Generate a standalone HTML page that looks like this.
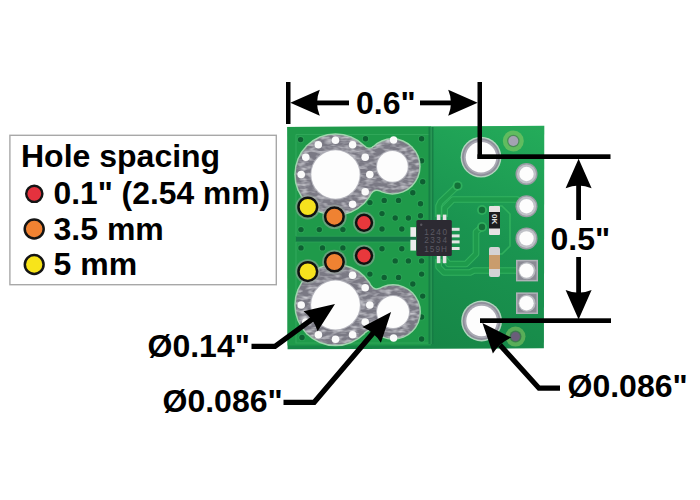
<!DOCTYPE html>
<html><head><meta charset="utf-8">
<style>
html,body{margin:0;padding:0;background:#fff;width:700px;height:500px;overflow:hidden}
svg{display:block}
text{font-family:"Liberation Sans",sans-serif;font-weight:bold;fill:#000}
</style></head><body>
<svg width="700" height="500" viewBox="0 0 700 500">
<defs>
<filter id="mottle" x="0" y="0" width="100%" height="100%">
<feTurbulence type="fractalNoise" baseFrequency="0.12 0.3" numOctaves="2" seed="7" result="n"/>
<feColorMatrix in="n" type="matrix" values="0 0 0 0 0.6  0 0 0 0 0.6  0 0 0 0 0.64  0 0 0 -2.2 1.3" result="c"/>
<feComposite in="c" in2="SourceGraphic" operator="in"/>
</filter>
<linearGradient id="bgrad" x1="430" y1="348" x2="544" y2="127" gradientUnits="userSpaceOnUse">
<stop offset="0" stop-color="#168646"/><stop offset="0.5" stop-color="#1a9450"/><stop offset="1" stop-color="#24ac5a"/>
</linearGradient>
</defs>
<rect width="700" height="500" fill="#fff"/>

<rect x="9.9" y="135.3" width="266.4" height="149.4" fill="#fff" stroke="#a8a8a8" stroke-width="1.4"/>
<text x="21" y="167" font-size="32">Hole spacing</text>
<circle cx="34.3" cy="193.8" r="8.1" fill="#e4323e" stroke="#141414" stroke-width="2.4"/>
<text x="53.5" y="204.2" font-size="31.8">0.1" (2.54 mm)</text>
<circle cx="34.2" cy="229" r="9.5" fill="#f08232" stroke="#141414" stroke-width="2.5"/>
<text x="53.5" y="240" font-size="32">3.5 mm</text>
<circle cx="34.2" cy="264.5" r="9.4" fill="#f8e41a" stroke="#141414" stroke-width="2.5"/>
<text x="53.5" y="275" font-size="32">5 mm</text>
<path d="M287.4 127.1 L544.3 125.8 L543.9 348.3 L287.6 349.3 Z" fill="url(#bgrad)"/>
<rect x="287.4" y="126.9" width="256.6" height="3" fill="#2aa456" opacity="0.7"/>
<path d="M287.4 127.1 L431 126.4 V345.5 H287.5 Z" fill="#1f9a4a"/>
<path d="M296 134.5 H430.5 M296 134.5 V236 M296 242 V343 H430.5" fill="none" stroke="#3cb064" stroke-width="1.2" opacity="0.6"/>
<rect x="428.5" y="127" width="5" height="217" fill="#167a44" opacity="0.85"/>
<rect x="430.5" y="127" width="1.3" height="217" fill="#3cb064" opacity="0.6"/>
<rect x="296" y="235.8" width="120" height="6.6" fill="#3cb064" opacity="0.5"/>
<rect x="296" y="236.6" width="120" height="5" fill="#157646"/>
<circle cx="300.6" cy="139.6" r="3.6" fill="#3cb064" opacity="0.45"/><circle cx="300.6" cy="139.6" r="2.7" fill="#0e6032"/>
<circle cx="365.5" cy="138.8" r="3.6" fill="#3cb064" opacity="0.45"/><circle cx="365.5" cy="138.8" r="2.7" fill="#0e6032"/>
<circle cx="421.6" cy="138.8" r="3.6" fill="#3cb064" opacity="0.45"/><circle cx="421.6" cy="138.8" r="2.7" fill="#0e6032"/>
<circle cx="421.6" cy="160.8" r="3.6" fill="#3cb064" opacity="0.45"/><circle cx="421.6" cy="160.8" r="2.7" fill="#0e6032"/>
<circle cx="422.7" cy="181.7" r="3.6" fill="#3cb064" opacity="0.45"/><circle cx="422.7" cy="181.7" r="2.7" fill="#0e6032"/>
<circle cx="412.8" cy="192.7" r="3.6" fill="#3cb064" opacity="0.45"/><circle cx="412.8" cy="192.7" r="2.7" fill="#0e6032"/>
<circle cx="369.9" cy="202.6" r="3.6" fill="#3cb064" opacity="0.45"/><circle cx="369.9" cy="202.6" r="2.7" fill="#0e6032"/>
<circle cx="384.2" cy="200.4" r="3.6" fill="#3cb064" opacity="0.45"/><circle cx="384.2" cy="200.4" r="2.7" fill="#0e6032"/>
<circle cx="398.5" cy="200.4" r="3.6" fill="#3cb064" opacity="0.45"/><circle cx="398.5" cy="200.4" r="2.7" fill="#0e6032"/>
<circle cx="420.5" cy="203.7" r="3.6" fill="#3cb064" opacity="0.45"/><circle cx="420.5" cy="203.7" r="2.7" fill="#0e6032"/>
<circle cx="382" cy="213.6" r="3.6" fill="#3cb064" opacity="0.45"/><circle cx="382" cy="213.6" r="2.7" fill="#0e6032"/>
<circle cx="395.2" cy="218" r="3.6" fill="#3cb064" opacity="0.45"/><circle cx="395.2" cy="218" r="2.7" fill="#0e6032"/>
<circle cx="408.4" cy="218" r="3.6" fill="#3cb064" opacity="0.45"/><circle cx="408.4" cy="218" r="2.7" fill="#0e6032"/>
<circle cx="420.5" cy="215.8" r="3.6" fill="#3cb064" opacity="0.45"/><circle cx="420.5" cy="215.8" r="2.7" fill="#0e6032"/>
<circle cx="382" cy="229" r="3.6" fill="#3cb064" opacity="0.45"/><circle cx="382" cy="229" r="2.7" fill="#0e6032"/>
<circle cx="401.8" cy="229" r="3.6" fill="#3cb064" opacity="0.45"/><circle cx="401.8" cy="229" r="2.7" fill="#0e6032"/>
<circle cx="301" cy="229.6" r="3.6" fill="#3cb064" opacity="0.45"/><circle cx="301" cy="229.6" r="2.7" fill="#0e6032"/>
<circle cx="319.3" cy="229.6" r="3.6" fill="#3cb064" opacity="0.45"/><circle cx="319.3" cy="229.6" r="2.7" fill="#0e6032"/>
<circle cx="342.9" cy="229.6" r="3.6" fill="#3cb064" opacity="0.45"/><circle cx="342.9" cy="229.6" r="2.7" fill="#0e6032"/>
<circle cx="301" cy="247.9" r="3.6" fill="#3cb064" opacity="0.45"/><circle cx="301" cy="247.9" r="2.7" fill="#0e6032"/>
<circle cx="322.5" cy="247.9" r="3.6" fill="#3cb064" opacity="0.45"/><circle cx="322.5" cy="247.9" r="2.7" fill="#0e6032"/>
<circle cx="342.9" cy="247.9" r="3.6" fill="#3cb064" opacity="0.45"/><circle cx="342.9" cy="247.9" r="2.7" fill="#0e6032"/>
<circle cx="382" cy="248.8" r="3.6" fill="#3cb064" opacity="0.45"/><circle cx="382" cy="248.8" r="2.7" fill="#0e6032"/>
<circle cx="401.8" cy="248.8" r="3.6" fill="#3cb064" opacity="0.45"/><circle cx="401.8" cy="248.8" r="2.7" fill="#0e6032"/>
<circle cx="395.2" cy="260.9" r="3.6" fill="#3cb064" opacity="0.45"/><circle cx="395.2" cy="260.9" r="2.7" fill="#0e6032"/>
<circle cx="408.4" cy="260.9" r="3.6" fill="#3cb064" opacity="0.45"/><circle cx="408.4" cy="260.9" r="2.7" fill="#0e6032"/>
<circle cx="421.6" cy="260.9" r="3.6" fill="#3cb064" opacity="0.45"/><circle cx="421.6" cy="260.9" r="2.7" fill="#0e6032"/>
<circle cx="369.9" cy="274.1" r="3.6" fill="#3cb064" opacity="0.45"/><circle cx="369.9" cy="274.1" r="2.7" fill="#0e6032"/>
<circle cx="384.2" cy="277.4" r="3.6" fill="#3cb064" opacity="0.45"/><circle cx="384.2" cy="277.4" r="2.7" fill="#0e6032"/>
<circle cx="398.5" cy="277.4" r="3.6" fill="#3cb064" opacity="0.45"/><circle cx="398.5" cy="277.4" r="2.7" fill="#0e6032"/>
<circle cx="412.8" cy="284" r="3.6" fill="#3cb064" opacity="0.45"/><circle cx="412.8" cy="284" r="2.7" fill="#0e6032"/>
<circle cx="421.6" cy="274.1" r="3.6" fill="#3cb064" opacity="0.45"/><circle cx="421.6" cy="274.1" r="2.7" fill="#0e6032"/>
<circle cx="422.7" cy="296.1" r="3.6" fill="#3cb064" opacity="0.45"/><circle cx="422.7" cy="296.1" r="2.7" fill="#0e6032"/>
<circle cx="421.6" cy="317" r="3.6" fill="#3cb064" opacity="0.45"/><circle cx="421.6" cy="317" r="2.7" fill="#0e6032"/>
<circle cx="421.6" cy="339" r="3.6" fill="#3cb064" opacity="0.45"/><circle cx="421.6" cy="339" r="2.7" fill="#0e6032"/>
<circle cx="302" cy="337.5" r="3.6" fill="#3cb064" opacity="0.45"/><circle cx="302" cy="337.5" r="2.7" fill="#0e6032"/>
<g fill="#b8e0c0" opacity="0.85"><circle cx="335.5" cy="174.5" r="41.3"/><circle cx="392.4" cy="166.4" r="28.3"/><path d="M335.50 174.50 L371.99 193.84 A5.5 5.5 0 0 1 379.38 191.53 L392.40 166.40 Z"/><path d="M335.50 174.50 L365.15 145.75 A5.5 5.5 0 0 0 372.89 145.90 L392.40 166.40 Z"/></g>
<g fill="#7a7984"><circle cx="335.5" cy="174.5" r="39.8"/><circle cx="392.4" cy="166.4" r="26.8"/><path d="M335.50 174.50 L370.67 193.13 A7 7 0 0 1 380.07 190.20 L392.40 166.40 Z"/><path d="M335.50 174.50 L364.07 146.79 A7 7 0 0 0 373.92 146.99 L392.40 166.40 Z"/></g>
<g fill="#abaab5" filter="url(#mottle)"><circle cx="335.5" cy="174.5" r="39.8"/><circle cx="392.4" cy="166.4" r="26.8"/><path d="M335.50 174.50 L370.67 193.13 A7 7 0 0 1 380.07 190.20 L392.40 166.40 Z"/><path d="M335.50 174.50 L364.07 146.79 A7 7 0 0 0 373.92 146.99 L392.40 166.40 Z"/></g>
<circle cx="335.5" cy="174.5" r="25.2" fill="#b4b4bc"/>
<circle cx="335.5" cy="174.5" r="24.2" fill="#fdfdfd"/>
<circle cx="392.4" cy="166.4" r="16.4" fill="#b4b4bc"/>
<circle cx="392.4" cy="166.4" r="15.4" fill="#fdfdfd"/>
<circle cx="369.8" cy="174.5" r="3.8" fill="#fafafa"/>
<circle cx="365.2" cy="191.7" r="3.8" fill="#fafafa"/>
<circle cx="352.6" cy="204.2" r="3.8" fill="#fafafa"/>
<circle cx="301.2" cy="174.5" r="3.8" fill="#fafafa"/>
<circle cx="305.8" cy="157.3" r="3.8" fill="#fafafa"/>
<circle cx="318.3" cy="144.8" r="3.8" fill="#fafafa"/>
<circle cx="335.5" cy="140.2" r="3.8" fill="#fafafa"/>
<circle cx="352.6" cy="144.8" r="3.8" fill="#fafafa"/>
<circle cx="365.2" cy="157.3" r="3.8" fill="#fafafa"/>
<circle cx="393.6" cy="140" r="3.7" fill="#fafafa"/>
<g fill="#b8e0c0" opacity="0.85"><circle cx="335.5" cy="305" r="41.3"/><circle cx="393" cy="312" r="28.0"/><path d="M335.50 305.00 L366.06 332.78 A5.5 5.5 0 0 1 373.89 332.46 L393.00 312.00 Z"/><path d="M335.50 305.00 L371.83 285.36 A5.5 5.5 0 0 0 379.35 287.55 L393.00 312.00 Z"/></g>
<g fill="#7a7984"><circle cx="335.5" cy="305" r="39.8"/><circle cx="393" cy="312" r="26.5"/><path d="M335.50 305.00 L364.95 331.77 A7 7 0 0 1 374.91 331.36 L393.00 312.00 Z"/><path d="M335.50 305.00 L370.51 286.08 A7 7 0 0 0 380.08 288.86 L393.00 312.00 Z"/></g>
<g fill="#abaab5" filter="url(#mottle)"><circle cx="335.5" cy="305" r="39.8"/><circle cx="393" cy="312" r="26.5"/><path d="M335.50 305.00 L364.95 331.77 A7 7 0 0 1 374.91 331.36 L393.00 312.00 Z"/><path d="M335.50 305.00 L370.51 286.08 A7 7 0 0 0 380.08 288.86 L393.00 312.00 Z"/></g>
<circle cx="335.5" cy="305" r="25.4" fill="#b4b4bc"/>
<circle cx="335.5" cy="305" r="24.4" fill="#fdfdfd"/>
<circle cx="393" cy="312" r="17" fill="#b4b4bc"/>
<circle cx="393" cy="312" r="16" fill="#fdfdfd"/>
<circle cx="369.8" cy="305.0" r="3.8" fill="#fafafa"/>
<circle cx="365.2" cy="322.1" r="3.8" fill="#fafafa"/>
<circle cx="352.6" cy="334.7" r="3.8" fill="#fafafa"/>
<circle cx="335.5" cy="339.3" r="3.8" fill="#fafafa"/>
<circle cx="318.4" cy="334.7" r="3.8" fill="#fafafa"/>
<circle cx="305.8" cy="322.1" r="3.8" fill="#fafafa"/>
<circle cx="301.2" cy="305.0" r="3.8" fill="#fafafa"/>
<circle cx="352.6" cy="275.3" r="3.8" fill="#fafafa"/>
<circle cx="365.2" cy="287.8" r="3.8" fill="#fafafa"/>
<circle cx="393.6" cy="338" r="3.7" fill="#fafafa"/>
<circle cx="307.8" cy="207" r="12.4" fill="#9aa8a0" opacity="0.55"/>
<circle cx="307.8" cy="207" r="9.35" fill="#f6e21e" stroke="#111" stroke-width="2.5"/>
<circle cx="334.4" cy="216.7" r="12.3" fill="#9aa8a0" opacity="0.55"/>
<circle cx="334.4" cy="216.7" r="9.25" fill="#ef8232" stroke="#111" stroke-width="2.5"/>
<circle cx="364" cy="222.8" r="11.0" fill="#9aa8a0" opacity="0.55"/>
<circle cx="364" cy="222.8" r="7.949999999999999" fill="#e8383c" stroke="#111" stroke-width="2.5"/>
<circle cx="364" cy="255.8" r="11.0" fill="#9aa8a0" opacity="0.55"/>
<circle cx="364" cy="255.8" r="7.949999999999999" fill="#e8383c" stroke="#111" stroke-width="2.5"/>
<circle cx="334.4" cy="262" r="12.3" fill="#9aa8a0" opacity="0.55"/>
<circle cx="334.4" cy="262" r="9.25" fill="#ef8232" stroke="#111" stroke-width="2.5"/>
<circle cx="307.8" cy="271.6" r="12.4" fill="#9aa8a0" opacity="0.55"/>
<circle cx="307.8" cy="271.6" r="9.35" fill="#f6e21e" stroke="#111" stroke-width="2.5"/>
<path d="M457.6 185.8 L440.5 202 L438.6 206 L438.6 217" fill="none" stroke="#38b862" stroke-width="6.7" stroke-linejoin="round" opacity="0.8"/>
<path d="M457.6 185.8 L440.5 202 L438.6 206 L438.6 217" fill="none" stroke="#1e9a4c" stroke-width="4.5" stroke-linejoin="round"/>
<path d="M444.6 217 L444.6 208 L453 199.5 L517 199.5 L526 206" fill="none" stroke="#38b862" stroke-width="6.7" stroke-linejoin="round" opacity="0.8"/>
<path d="M444.6 217 L444.6 208 L453 199.5 L517 199.5 L526 206" fill="none" stroke="#1e9a4c" stroke-width="4.5" stroke-linejoin="round"/>
<path d="M438.6 259 L438.6 267 L444 272.5 L470 272.5 L474 270.5 L518 270.5" fill="none" stroke="#38b862" stroke-width="6.7" stroke-linejoin="round" opacity="0.8"/>
<path d="M438.6 259 L438.6 267 L444 272.5 L470 272.5 L474 270.5 L518 270.5" fill="none" stroke="#1e9a4c" stroke-width="4.5" stroke-linejoin="round"/>
<path d="M444.6 259 L448.5 264 L466 264 L476 254 L476 232 L482 227" fill="none" stroke="#38b862" stroke-width="6.7" stroke-linejoin="round" opacity="0.8"/>
<path d="M444.6 259 L448.5 264 L466 264 L476 254 L476 232 L482 227" fill="none" stroke="#1e9a4c" stroke-width="4.5" stroke-linejoin="round"/>
<path d="M494 206 L502 206 L510 214 L510 246 L502 254 L494 254" fill="none" stroke="#38b862" stroke-width="1.6" opacity="0.75"/>
<circle cx="457.6" cy="185.8" r="5" fill="#38b862" opacity="0.7"/><circle cx="457.6" cy="185.8" r="3.2" fill="#137038"/>
<circle cx="482" cy="210" r="5" fill="#38b862" opacity="0.7"/><circle cx="482" cy="210" r="3.2" fill="#137038"/>
<circle cx="482" cy="227" r="5" fill="#38b862" opacity="0.7"/><circle cx="482" cy="227" r="3.2" fill="#137038"/>
<circle cx="481" cy="157.2" r="20.4" fill="#b4d6c0"/>
<circle cx="481" cy="157.2" r="19" fill="#8e8e9a"/>
<circle cx="481" cy="157.2" r="17.2" fill="#a8a8b2"/>
<circle cx="481" cy="157.2" r="15.3" fill="#fdfdfd"/>
<circle cx="481.6" cy="321" r="20.4" fill="#b4d6c0"/>
<circle cx="481.6" cy="321" r="19" fill="#8e8e9a"/>
<circle cx="481.6" cy="321" r="17.2" fill="#a8a8b2"/>
<circle cx="481.6" cy="321" r="15.3" fill="#fdfdfd"/>
<circle cx="513.3" cy="141" r="10.5" fill="#6cc060" opacity="0.85"/><circle cx="513.3" cy="141" r="6.2" fill="#4c8c58"/><circle cx="513.3" cy="141" r="5" fill="#a4a2b2"/>
<circle cx="515.5" cy="336.6" r="10" fill="#64b45a" opacity="0.85"/><circle cx="515.5" cy="336.6" r="6" fill="#3e7a50"/><circle cx="515.5" cy="336.6" r="4.5" fill="#6a5e7a"/>
<circle cx="526.5" cy="174" r="11" fill="#9a9ca4"/><circle cx="526.5" cy="174" r="9.6" fill="#c0c2c8"/>
<circle cx="526.5" cy="174" r="7.2" fill="#fdfdfd"/>
<circle cx="526.5" cy="206.2" r="11" fill="#9a9ca4"/><circle cx="526.5" cy="206.2" r="9.6" fill="#c0c2c8"/>
<circle cx="526.5" cy="206.2" r="7.2" fill="#fdfdfd"/>
<circle cx="526.5" cy="238.4" r="11" fill="#9a9ca4"/><circle cx="526.5" cy="238.4" r="9.6" fill="#c0c2c8"/>
<circle cx="526.5" cy="238.4" r="7.2" fill="#fdfdfd"/>
<rect x="516" y="259.8" width="22" height="21.6" fill="#b0b2b8"/><rect x="517.5" y="261.3" width="19" height="18.6" fill="#8a8a94"/><circle cx="527" cy="270.6" r="8.6" fill="#b8bac0"/>
<circle cx="526.5" cy="270.6" r="7.2" fill="#fdfdfd"/>
<rect x="516" y="292.4" width="22" height="21.6" fill="#b0b2b8"/><rect x="517.5" y="293.9" width="19" height="18.6" fill="#8a8a94"/><circle cx="527" cy="303.2" r="8.6" fill="#b8bac0"/>
<circle cx="526.5" cy="303.2" r="7.2" fill="#fdfdfd"/>
<rect x="410.4" y="227.2" width="5.6" height="9.6" fill="#ececec"/><rect x="410.4" y="239.8" width="5.6" height="10.8" fill="#ececec"/>
<rect x="436.8" y="214.6" width="3.6" height="6" fill="#e4e4e4"/><rect x="436.8" y="256" width="3.6" height="7.2" fill="#e4e4e4"/>
<rect x="442.8" y="214.6" width="3.6" height="6" fill="#e4e4e4"/><rect x="442.8" y="256" width="3.6" height="7.2" fill="#e4e4e4"/>
<rect x="451" y="227.8" width="8.6" height="3" fill="#e4e4e4"/>
<rect x="451" y="234.4" width="8.6" height="3" fill="#e4e4e4"/>
<rect x="451" y="240.4" width="8.6" height="3" fill="#e4e4e4"/>
<rect x="451" y="247" width="8.6" height="3" fill="#e4e4e4"/>
<rect x="416.4" y="220" width="35.4" height="36" rx="1.5" fill="#2c2a32"/>
<circle cx="421.2" cy="224.8" r="1.2" fill="#5a5860"/>
<g style="font-family:'Liberation Mono',monospace;font-weight:normal;font-size:8.2px"><text x="424.2" y="235.2" fill="#5c5a64" style="font-weight:normal;fill:#5c5a64" textLength="22.8">1240</text><text x="424.2" y="243" style="font-weight:normal;fill:#5c5a64" textLength="22.8">2334</text><text x="424.2" y="251.8" style="font-weight:normal;fill:#5c5a64" textLength="22.8">159H</text></g>
<rect x="489" y="206" width="11" height="29" rx="1" fill="#e6e2e2"/><rect x="489" y="212" width="11" height="16.5" fill="#1c1c1e"/>
<text x="0" y="0" transform="translate(491.5,214) rotate(90)" style="font-size:8px;fill:#e0e0e0;font-weight:bold">0K</text>
<rect x="489" y="247" width="11" height="30" rx="2" fill="#d4d2d4"/><rect x="489" y="255" width="11" height="14" fill="#c99c6c"/>
<g fill="#000">
<rect x="286" y="82" width="4.5" height="42"/>
<rect x="477.5" y="82" width="4.5" height="77"/>
<rect x="477.5" y="154.3" width="133" height="4.7"/>
<rect x="480" y="318.3" width="131" height="4.7"/>
<rect x="311" y="100.5" width="38" height="4.8"/>
<rect x="420" y="100.5" width="37" height="4.8"/>
<rect x="576.2" y="182" width="4.8" height="38"/>
<rect x="576.2" y="257" width="4.8" height="38"/>
<path d="M290.3 102.8 L319.8 115.8 Q314.3 102.8 319.8 89.8 Z"/>
<path d="M477.7 102.8 L448.2 89.8 Q453.7 102.8 448.2 115.8 Z"/>
<path d="M578.6 158.8 L565.6 188.3 Q578.6 182.8 591.6 188.3 Z"/>
<path d="M578.6 319.5 L591.6 290.0 Q578.6 295.5 565.6 290.0 Z"/>
<path d="M335.0 303.9 L303.5 311.3 Q313.8 318.9 317.6 331.2 Z"/>
<path d="M391.1 312.1 L362.4 327.0 Q374.2 331.9 380.9 342.8 Z"/>
<path d="M482.4 323.0 L492.9 353.6 Q499.5 342.6 511.3 337.6 Z"/>
</g>
<g fill="none" stroke="#000" stroke-width="5.2" stroke-linejoin="miter">
<polyline points="251.5,346.4 275,346.4 314,317.9"/>
<polyline points="283.5,402.3 314.2,402.3 374,332"/>
<polyline points="560,388.2 539,388.2 500,345"/>
</g>
<text x="356" y="114.3" font-size="32">0.6"</text>
<text x="550.5" y="249.5" font-size="32">0.5"</text>
<text x="147.5" y="356.6" font-size="32">Ø0.14"</text>
<text x="162.5" y="412" font-size="32">Ø0.086"</text>
<text x="567.5" y="397" font-size="32">Ø0.086"</text>
</svg>
</body></html>
